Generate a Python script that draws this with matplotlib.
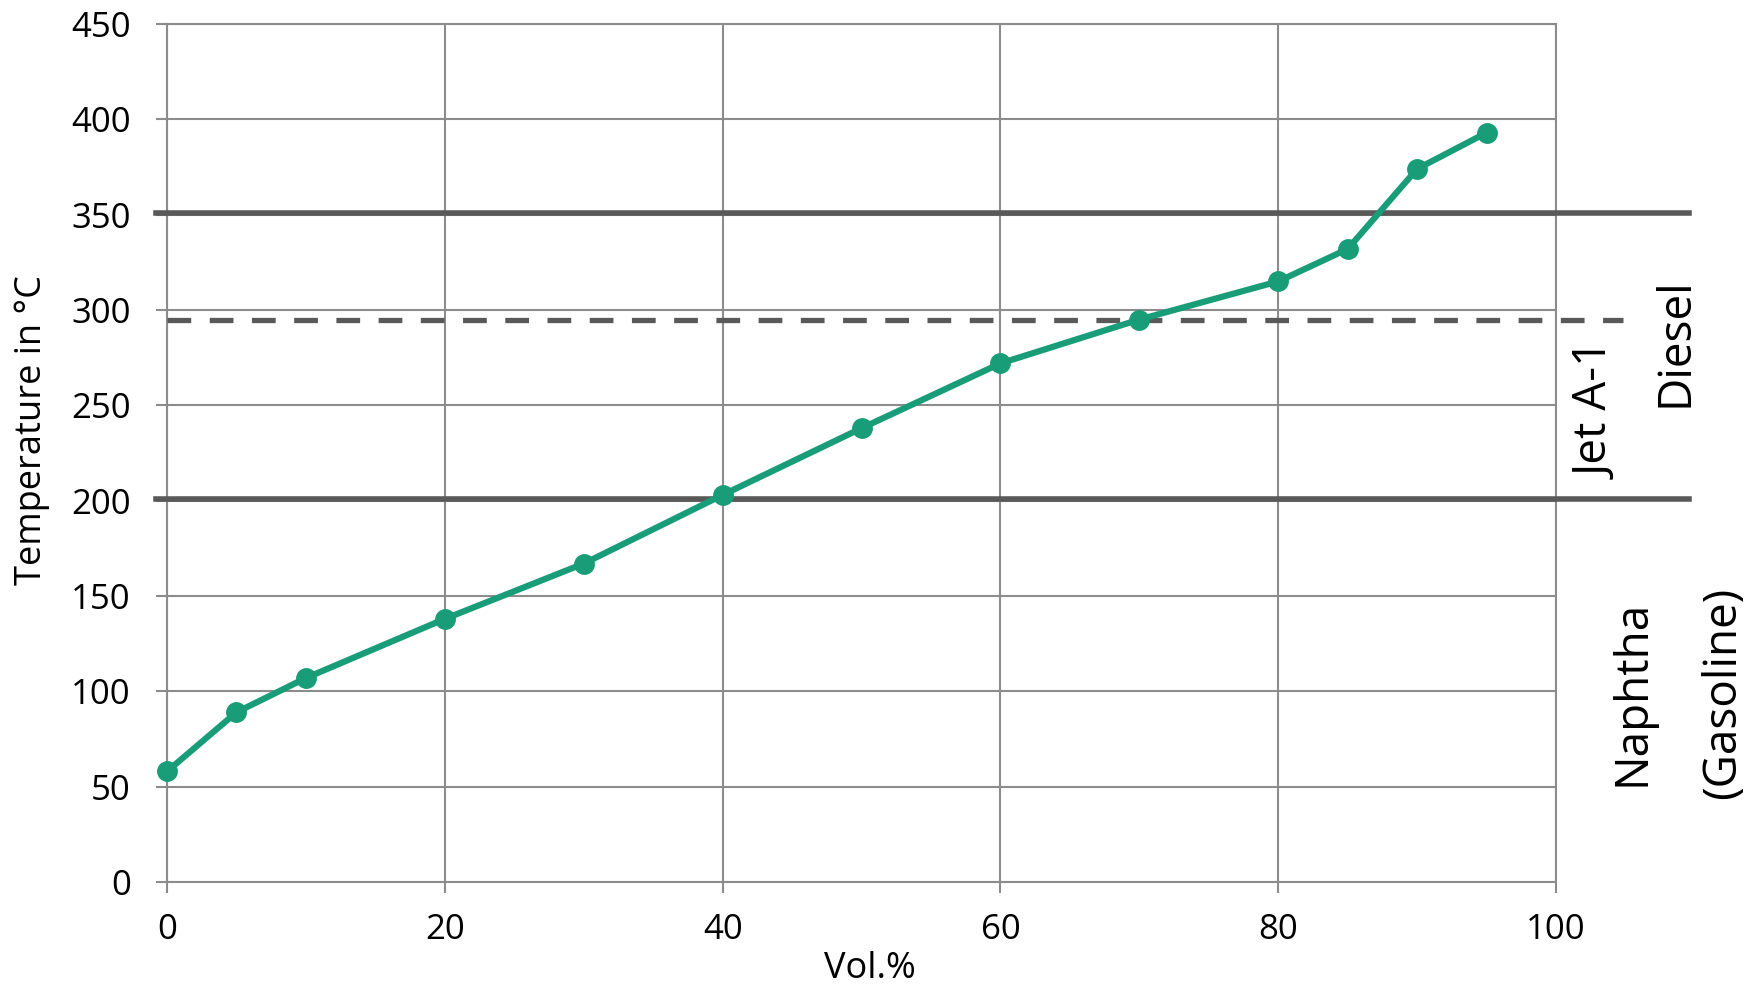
import matplotlib
matplotlib.use("Agg")
import matplotlib.pyplot as plt

# distillation curve
vol_pct = [0, 5, 10, 20, 30, 40, 50, 60, 70, 80, 85, 90, 95]
temp_c = [58, 89, 107, 138, 167, 203, 238, 272, 295, 315, 332, 374, 393]

# cut boundaries
solid_cuts = [351, 201]
dashed_cut = 295

x_ticks = [0, 20, 40, 60, 80, 100]
y_ticks = [0, 50, 100, 150, 200, 250, 300, 350, 400, 450]

GREEN = '#199D79'
GRID = '#8C8C8C'
DARK = '#595959'

plt.rcParams['font.family'] = ['Open Sans', 'DejaVu Sans']

fig = plt.figure(figsize=(17.62, 9.88), dpi=100)
ax = fig.add_axes([0.0948, 0.1073, 0.7883, 0.8684])

ax.set_xlim(0, 100)
ax.set_ylim(0, 450)
ax.set_xticks(x_ticks)
ax.set_yticks(y_ticks)
ax.grid(True, color=GRID, linewidth=1.5)
ax.set_axisbelow(True)
for s in ax.spines.values():
    s.set_color(GRID)
    s.set_linewidth(1.5)
ax.tick_params(axis='both', length=8, width=1.5, color=GRID, labelsize=25)
ax.tick_params(axis='y', pad=18)
ax.tick_params(axis='x', pad=14)

# fraction boundary lines (run past the plot to the right)
for y in solid_cuts:
    ax.plot([-0.8, 109.6], [y, y], color=DARK, linewidth=4, clip_on=False, zorder=3)
ax.plot([0, 104.8], [dashed_cut, dashed_cut], color=DARK, linewidth=3.8,
        dashes=(4.5, 3.5), dash_capstyle='butt', clip_on=False, zorder=3)

ax.plot(vol_pct, temp_c, color=GREEN, linewidth=4.5, marker='o', markersize=14,
        clip_on=False, zorder=4)

# fraction labels
ax.text(103, 247, 'Jet A-1', rotation=90, ha='center', va='center', fontsize=33)
ax.text(108.6, 283, 'Diesel', rotation=90, ha='center', va='center', fontsize=33)
ax.text(105.5, 99, 'Naphtha', rotation=90, ha='center', va='center', fontsize=33)
ax.text(112, 99, '(Gasoline)', rotation=90, ha='center', va='center', fontsize=33)

ax.set_ylabel('Temperature in °C', fontsize=26)
ax.set_xlabel('Vol.%', fontsize=26)
ax.yaxis.set_label_coords(-0.084, 0.527)
ax.xaxis.set_label_coords(0.506, -0.08)

fig.savefig('out.png', dpi=100)
